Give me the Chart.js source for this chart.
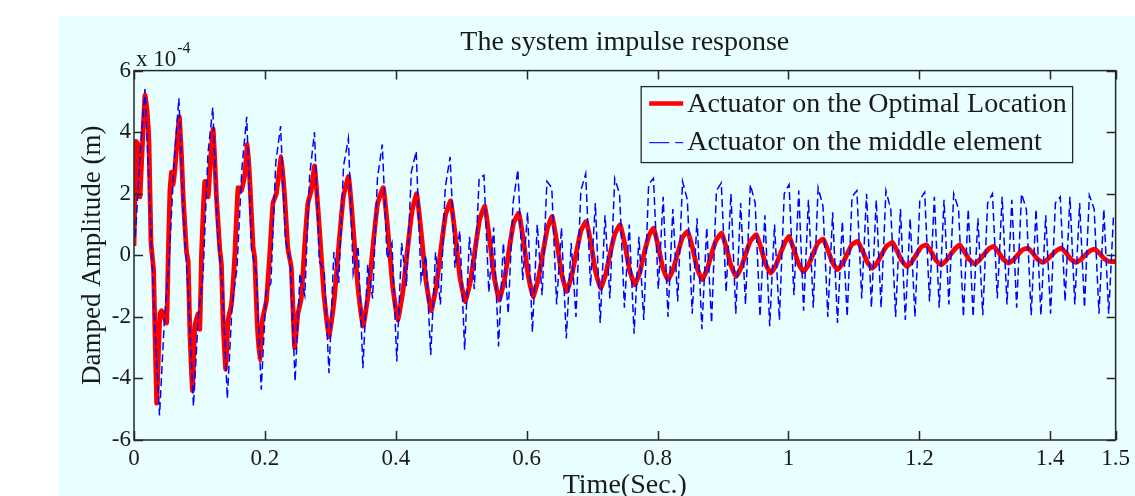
<!DOCTYPE html>
<html>
<head>
<meta charset="utf-8">
<script src="https://cdn.jsdelivr.net/npm/chart.js@4.4.0/dist/chart.umd.min.js"></script>
<style>
  html, body { margin: 0; padding: 0; background: #ffffff; }
  #fig { position: absolute; left: 59px; top: 16px; width: 1076px; height: 480px; background: #e9ffff; }
  canvas { display: block; }
</style>
</head>
<body>
<div id="fig"><canvas id="chart" width="1076" height="480"></canvas></div>
<script>
// axis ticks (values in units of 1e-4 m)
const xTicks = [0, 0.2, 0.4, 0.6, 0.8, 1, 1.2, 1.4, 1.5];
const xTickLabels = ['0', '0.2', '0.4', '0.6', '0.8', '1', '1.2', '1.4', '1.5'];
const yTicks = [-6, -4, -2, 0, 2, 4, 6];
const yTickLabels = ['-6', '-4', '-2', '0', '2', '4', '6'];

const seriesNames = ['Actuator on the Optimal Location', 'Actuator on the middle element'];

// red curve: times (s) and amplitudes
const redTime = [
  0, 0.003, 0.006, 0.009, 0.012, 0.0168, 0.020, 0.023, 0.026, 0.030,
  0.0346, 0.0396, 0.0422, 0.0498, 0.0523, 0.0549, 0.0574, 0.0599, 0.0625, 0.0691,
  0.0727, 0.0752, 0.0803, 0.0828, 0.0854, 0.0894, 0.093, 0.098, 0.1006, 0.1031,
  0.1057, 0.1082, 0.1133, 0.1159, 0.1209, 0.126, 0.1311, 0.1336, 0.1362, 0.1402,
  0.1438, 0.1489, 0.154, 0.159, 0.1641, 0.1692, 0.1733, 0.1768, 0.1819, 0.1845,
  0.188, 0.1921, 0.1962, 0.2022, 0.2073, 0.2124, 0.2175, 0.2251, 0.2302, 0.2353,
  0.2404, 0.2454, 0.2505, 0.2556, 0.2607, 0.2658, 0.2708, 0.2759,
  0.2839, 0.2899, 0.2979, 0.3059, 0.3129, 0.3199,
  0.328, 0.336, 0.342, 0.35, 0.358, 0.365, 0.372,
  0.381, 0.389, 0.395, 0.403, 0.411, 0.418, 0.425,
  0.432, 0.44, 0.446, 0.454, 0.462, 0.469, 0.476,
  0.484, 0.492, 0.498, 0.506, 0.514, 0.521, 0.528,
  0.536, 0.544, 0.55, 0.558, 0.566, 0.573, 0.58,
  0.588, 0.596, 0.602, 0.61, 0.618, 0.625, 0.632,
  0.639, 0.647, 0.653, 0.661, 0.669, 0.676, 0.683,
  0.691, 0.699, 0.705, 0.713, 0.721, 0.728, 0.735,
  0.743, 0.751, 0.757, 0.765, 0.773, 0.78, 0.787,
  0.794, 0.802, 0.808, 0.816, 0.824, 0.831, 0.838,
  0.846, 0.854, 0.86, 0.868, 0.876, 0.883, 0.89,
  0.898, 0.906, 0.912, 0.92, 0.928, 0.935, 0.942,
  0.951, 0.959, 0.965, 0.973, 0.981, 0.988, 0.995,
  1.001, 1.009, 1.015, 1.023, 1.031, 1.038, 1.045,
  1.053, 1.061, 1.067, 1.075, 1.083, 1.09, 1.097,
  1.106, 1.114, 1.12, 1.128, 1.136, 1.143, 1.15,
  1.159, 1.167, 1.173, 1.181, 1.189, 1.196, 1.203,
  1.211, 1.219, 1.225, 1.233, 1.241, 1.248, 1.255,
  1.262, 1.27, 1.276, 1.284, 1.292, 1.299, 1.306,
  1.314, 1.322, 1.328, 1.336, 1.344, 1.351, 1.358,
  1.366, 1.374, 1.38, 1.388, 1.396, 1.403, 1.41,
  1.417, 1.425, 1.431, 1.439, 1.447, 1.454, 1.461,
  1.468, 1.476, 1.482, 1.49, 1.5
];
const redValues = [
  0.3, 3.7, 3.6, 1.9, 3.2, 5.2, 4.7, 3.6, 0.4, -0.5,
  -4.8, -1.9, -1.8, -2.2, 0.0, 2.1, 2.7, 2.3, 2.8, 4.5,
  3.2, 1.9, 0.1, -0.2, -2.5, -4.4, -2.3, -1.9, -2.4, 0.0,
  1.4, 2.4, 1.9, 2.8, 4.1, 1.9, 0.2, -0.3, -2.2, -3.7,
  -2.1, -1.6, 0.0, 2.2, 2.1, 2.6, 3.6, 2.5, 0.3, -0.1,
  -2.1, -3.4, -2.1, -1.5, 0.0, 1.7, 2.0, 3.2, 1.9, 0.2,
  -0.4, -3.0, -1.9, -1.4, 0.3, 1.7, 2.1, 2.9,
  0.7, -1.2, -2.64, -1.45, 0.3, 1.9,
  2.56, 0.6, -1.0, -2.3, -1.25, 0.25, 1.65,
  2.2, 0.55, -0.95, -2.1, -1.15, 0.2, 1.45,
  2.0, 0.5, -0.8, -1.8, -1.0, 0.2, 1.3,
  1.77, 0.45, -0.7, -1.5, -0.85, 0.15, 1.15,
  1.59, 0.4, -0.65, -1.45, -0.8, 0.15, 1.05,
  1.37, 0.35, -0.6, -1.34, -0.75, 0.1, 0.9,
  1.26, 0.3, -0.55, -1.18, -0.65, 0.1, 0.8,
  1.1, 0.3, -0.5, -1.07, -0.6, 0.1, 0.7,
  0.99, 0.25, -0.45, -0.96, -0.55, 0.1, 0.65,
  0.88, 0.2, -0.4, -0.8, -0.45, 0.08, 0.58,
  0.77, 0.2, -0.38, -0.8, -0.45, 0.08, 0.5,
  0.72, 0.18, -0.32, -0.69, -0.38, 0.07, 0.47,
  0.67, 0.17, -0.28, -0.58, -0.32, 0.07, 0.43,
  0.61, 0.15, -0.25, -0.53, -0.3, 0.06, 0.4,
  0.53, 0.13, -0.22, -0.47, -0.26, 0.05, 0.35,
  0.45, 0.11, -0.2, -0.42, -0.23, 0.05, 0.3,
  0.42, 0.1, -0.17, -0.36, -0.2, 0.04, 0.27,
  0.34, 0.08, -0.15, -0.31, -0.17, 0.03, 0.22,
  0.34, 0.08, -0.13, -0.28, -0.15, 0.03, 0.21,
  0.29, 0.07, -0.12, -0.25, -0.14, 0.03, 0.18,
  0.23, 0.06, -0.11, -0.23, -0.13, 0.02, 0.16,
  0.23, 0.06, -0.11, -0.23, -0.13, 0.02, 0.15,
  0.2, 0.05, -0.1, -0.2, -0.2
];

// blue curve: sampled every blueStep seconds from blueStart
const blueStart = 0.002;
const blueStep = 0.0074;
const blueValues = [
  0.6, 3.3,
  5.4, 1.6, -2.2, -5.2, -2.1, -0.1, 3.0,
  5.1, 1.1, -1.4, -4.9, -2.0, -0.6, 3.3,
  4.8, 0.7, -1.0, -4.65, -1.6, -0.4, 2.8,
  4.5, 0.2, -0.6, -4.37, -1.2, -0.9, 3.0,
  4.2, 0.5, -0.2, -4.1, -0.6, -1.3, 2.6,
  4.0, -0.2, -0.5, -3.83, 0.1, -0.9, 2.9,
  3.8, -0.6, 0.3, -3.67, -0.3, -1.4, 2.5,
  3.6, -0.1, 0.4, -3.45, 0.4, -1.0, 2.7,
  3.38, -0.8, 0.0, -3.24, 0.1, -1.6, 2.2,
  3.2, -0.4, 0.8, -3.07, 0.6, -1.1, 2.5,
  2.6, -1.2, 0.9, -2.96, 0.4, -1.9, 1.7,
  2.78, -0.8, 1.4, -2.5, 1.0, -1.3, 2.4,
  2.2, -1.6, 0.9, -2.7, 0.4, -2.0, 2.1,
  2.65, -1.0, 1.7, -2.2, 1.3, -1.4, 2.5,
  2.0, -1.7, 1.0, -2.55, 0.6, -2.1, 2.3,
  2.5, -1.1, 1.9, -2.0, 1.5, -1.5, 2.4,
  1.8, -1.9, 1.2, -2.4, 0.9, -2.2, 2.1,
  2.35, -1.2, 2.0, -1.9, 1.7, -1.6, 2.3,
  1.7, -2.0, 1.3, -2.3, 1.0, -2.1, 2.0,
  2.3, -1.3, 2.1, -1.8, 1.8, -1.7, 2.2,
  1.6, -2.0, 1.4, -2.2, 1.1, -2.0, 1.9,
  2.1, -1.4, 2.0, -1.7, 1.8, -1.7, 2.1,
  1.5, -2.0, 1.5, -2.1, 1.2, -2.0, 1.8,
  2.05, -1.5, 1.9, -1.7, 1.8, -1.6, 2.0,
  1.5, -2.0, 1.5, -2.0, 1.2, -1.95, 1.7,
  2.0, -1.4, 1.9, -1.6, 1.8, -1.7, 2.0,
  1.5, -1.95, 1.5, -1.95, 1.3, -1.9, 1.7,
  1.9, -1.5, 1.9, -1.6, 1.7, -1.7, 1.95,
  1.5, -1.9, 1.5, -1.9, 1.3
];

const FONT = '"Liberation Serif", "Times New Roman", serif';
const TEXT_COLOR = '#1a1a1a';

const redPoints = redTime.map((t, i) => ({ x: t, y: redValues[i] }));
const bluePoints = blueValues.map((v, i) => ({ x: blueStart + i * blueStep, y: v }));

// MATLAB-like box, inward ticks, exponent label and legend
const framePlugin = {
  id: 'matlabFrame',
  afterDatasetsDraw(chart) {
    const ctx = chart.ctx;
    const a = chart.chartArea;
    const xs = chart.scales.x;
    const ys = chart.scales.y;
    ctx.save();
    ctx.strokeStyle = '#262626';
    ctx.lineWidth = 1.5;
    ctx.setLineDash([]);
    ctx.strokeRect(a.left, a.top, a.right - a.left, a.bottom - a.top);
    ctx.beginPath();
    xTicks.forEach(v => {
      const px = Math.round(xs.getPixelForValue(v)) + 0.5;
      ctx.moveTo(px, a.bottom); ctx.lineTo(px, a.bottom - 9);
      ctx.moveTo(px, a.top); ctx.lineTo(px, a.top + 9);
    });
    yTicks.forEach(v => {
      const py = Math.round(ys.getPixelForValue(v)) + 0.5;
      ctx.moveTo(a.left, py); ctx.lineTo(a.left + 9, py);
      ctx.moveTo(a.right, py); ctx.lineTo(a.right - 9, py);
    });
    ctx.stroke();

    // exponent
    ctx.fillStyle = TEXT_COLOR;
    ctx.textBaseline = 'alphabetic';
    ctx.textAlign = 'left';
    ctx.font = '23px ' + FONT;
    ctx.fillText('x 10', a.left + 2, a.top - 5);
    const w = ctx.measureText('x 10').width;
    ctx.font = '16px ' + FONT;
    ctx.fillText('-4', a.left + 3 + w, a.top - 18);

    // legend
    ctx.font = '28px ' + FONT;
    const textW = Math.max(...seriesNames.map(s => ctx.measureText(s).width));
    const boxW = 46 + textW + 6;
    const boxH = 76;
    const bx = a.right - 43 - boxW;
    const by = a.top + 16;
    ctx.fillStyle = '#e9ffff';
    ctx.fillRect(bx, by, boxW, boxH);
    ctx.strokeStyle = '#262626';
    ctx.lineWidth = 1.3;
    ctx.strokeRect(bx, by, boxW, boxH);

    ctx.strokeStyle = '#ff0000';
    ctx.lineWidth = 4.5;
    ctx.beginPath();
    ctx.moveTo(bx + 8, by + 17); ctx.lineTo(bx + 42, by + 17);
    ctx.stroke();

    ctx.strokeStyle = '#2020ff';
    ctx.lineWidth = 1.4;
    ctx.setLineDash([20, 6]);
    ctx.beginPath();
    ctx.moveTo(bx + 8, by + 56); ctx.lineTo(bx + 42, by + 56);
    ctx.stroke();
    ctx.setLineDash([]);

    ctx.fillStyle = TEXT_COLOR;
    ctx.textBaseline = 'middle';
    ctx.fillText(seriesNames[0], bx + 46, by + 18);
    ctx.fillText(seriesNames[1], bx + 46, by + 56);
    ctx.restore();
  }
};

new Chart(document.getElementById('chart'), {
  type: 'line',
  data: {
    datasets: [
      {
        label: seriesNames[0],
        data: redPoints,
        borderColor: '#ff0000',
        borderWidth: 4.8,
        pointRadius: 0,
        tension: 0.12,
        order: 1
      },
      {
        label: seriesNames[1],
        data: bluePoints,
        borderColor: '#0000ff',
        borderWidth: 1.5,
        borderDash: [8, 4],
        pointRadius: 0,
        tension: 0,
        order: 0
      }
    ]
  },
  options: {
    responsive: false,
    animation: false,
    layout: { padding: { right: 17 } },
    plugins: {
      legend: { display: false },
      tooltip: { enabled: false },
      title: {
        display: true,
        text: 'The system impulse response',
        fullSize: false,
        color: TEXT_COLOR,
        font: { family: FONT, size: 28, weight: 'normal' },
        padding: { top: 10, bottom: 11 }
      }
    },
    scales: {
      x: {
        type: 'linear',
        min: 0,
        max: 1.5,
        afterBuildTicks: s => { s.ticks = xTicks.map(v => ({ value: v })); },
        afterFit: s => { s.height = 56; },
        grid: { display: false, drawTicks: false },
        border: { display: false },
        ticks: {
          color: TEXT_COLOR,
          font: { family: FONT, size: 23 },
          padding: 5,
          maxRotation: 0,
          autoSkip: false,
          callback: (v) => xTickLabels[xTicks.indexOf(v)]
        },
        title: {
          display: true,
          text: 'Time(Sec.)',
          color: TEXT_COLOR,
          font: { family: FONT, size: 28, lineHeight: 0.75 },
          padding: { top: 0, bottom: 0 }
        }
      },
      y: {
        type: 'linear',
        min: -6,
        max: 6,
        afterBuildTicks: s => { s.ticks = yTicks.map(v => ({ value: v })); },
        afterFit: s => { s.width = 75; },
        grid: { display: false, drawTicks: false },
        border: { display: false },
        ticks: {
          color: TEXT_COLOR,
          font: { family: FONT, size: 23 },
          padding: 3,
          autoSkip: false,
          callback: (v) => yTickLabels[yTicks.indexOf(v)]
        },
        title: {
          display: true,
          text: 'Damped Amplitude (m)',
          color: TEXT_COLOR,
          font: { family: FONT, size: 27 },
          padding: { top: 18, bottom: 0 }
        }
      }
    }
  },
  plugins: [framePlugin]
});
</script>
</body>
</html>
